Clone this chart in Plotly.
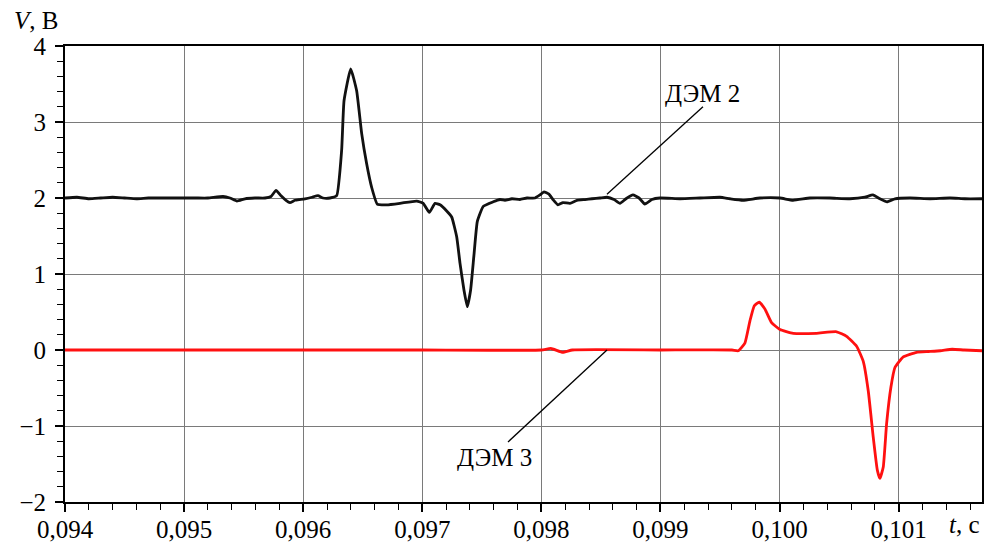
import plotly.graph_objects as go

# ДЭМ 2 signal (time in s, voltage in V)
dem2_t = [
    0.09400, 0.09410, 0.09420, 0.09430, 0.09440, 0.09450, 0.09460, 0.09470,
    0.09480, 0.09490, 0.09500, 0.09510, 0.09520, 0.095327, 0.095385, 0.095444,
    0.095511, 0.095595, 0.095679, 0.095730, 0.095772, 0.095814, 0.095856, 0.095889,
    0.095931, 0.095973, 0.096015, 0.096074, 0.096124, 0.096166, 0.096225, 0.096281,
    0.096323, 0.096343, 0.096399, 0.096449, 0.096491, 0.096533, 0.096575, 0.096622,
    0.096701, 0.096813, 0.096953, 0.097008, 0.097059, 0.097107, 0.097149, 0.097205,
    0.097247, 0.097289, 0.097317, 0.097350, 0.097378, 0.097406, 0.097434, 0.097462,
    0.097512, 0.097596, 0.097652, 0.097694, 0.097753, 0.097820, 0.097879, 0.097946,
    0.097988, 0.098022, 0.098064, 0.098097, 0.098139, 0.098181, 0.098240, 0.098299,
    0.098366, 0.098425, 0.098492, 0.098551, 0.098610, 0.098660, 0.098710, 0.098769,
    0.098820, 0.098869, 0.098928, 0.098996, 0.099164, 0.099332, 0.099500, 0.099584,
    0.099693, 0.099836, 0.100003, 0.100113, 0.100255, 0.100423, 0.100591, 0.100717,
    0.100784, 0.100843, 0.100902, 0.100969, 0.101095, 0.101263, 0.101431, 0.101557,
    0.101700,
]
dem2_v = [
    2.00, 2.01, 1.99, 2.00, 2.01, 2.00, 1.99, 2.00,
    2.00, 2.00, 2.00, 2.00, 2.00, 2.02, 2.00, 1.96,
    1.99, 2.00, 2.00, 2.02, 2.10, 2.03, 1.97, 1.94,
    1.97, 1.98, 1.99, 2.01, 2.03, 2.00, 2.00, 2.03,
    2.63, 3.28, 3.70, 3.41, 2.85, 2.45, 2.14, 1.92,
    1.91, 1.93, 1.96, 1.93, 1.81, 1.93, 1.91, 1.83,
    1.75, 1.49, 1.14, 0.79, 0.57, 0.79, 1.25, 1.69,
    1.89, 1.95, 1.98, 1.97, 1.99, 1.98, 2.00, 2.00,
    2.04, 2.08, 2.05, 1.98, 1.91, 1.94, 1.93, 1.97,
    1.98, 1.99, 2.00, 2.01, 1.98, 1.93, 1.99, 2.04,
    2.00, 1.92, 1.98, 2.00, 1.99, 2.00, 2.01, 1.99,
    1.97, 2.00, 2.00, 1.97, 2.00, 2.00, 1.99, 2.01,
    2.04, 1.99, 1.95, 1.99, 2.00, 1.99, 2.00, 1.99,
    1.99,
]

# ДЭМ 3 signal
dem3_t = [
    0.09400, 0.09500, 0.09600, 0.09700, 0.09800, 0.09808, 0.09818, 0.09826,
    0.09900, 0.09960, 0.099653, 0.099709, 0.099751, 0.099787, 0.099829, 0.099877,
    0.099933, 0.100003, 0.100115, 0.100311, 0.100479, 0.100563, 0.100647, 0.100703,
    0.100745, 0.100787, 0.100821, 0.100843, 0.100871, 0.100899, 0.100935, 0.100969,
    0.101039, 0.101151, 0.101250, 0.101350, 0.101450, 0.101550, 0.101700,
]
dem3_v = [
    0.00, 0.00, 0.00, 0.00, 0.00, 0.02, -0.03, 0.00,
    0.00, 0.00, -0.01, 0.09, 0.38, 0.58, 0.63, 0.54,
    0.36, 0.27, 0.22, 0.22, 0.24, 0.18, 0.05, -0.15,
    -0.54, -1.15, -1.58, -1.69, -1.54, -0.97, -0.49, -0.23,
    -0.09, -0.03, -0.02, -0.01, 0.01, 0.00, -0.01,
]

x_ticks = [0.094, 0.095, 0.096, 0.097, 0.098, 0.099, 0.100, 0.101]
x_labels = ["0,094", "0,095", "0,096", "0,097", "0,098", "0,099", "0,100", "0,101"]
y_ticks = [-2, -1, 0, 1, 2, 3, 4]
y_labels = ["\u22122", "\u22121", "0", "1", "2", "3", "4"]

FONT = "Liberation Serif"

fig = go.Figure()
fig.add_trace(go.Scatter(
    x=dem2_t, y=dem2_v, mode="lines",
    line=dict(color="#111111", width=2.8, shape="spline", smoothing=0.4),
    showlegend=False, hoverinfo="skip",
))
fig.add_trace(go.Scatter(
    x=dem3_t, y=dem3_v, mode="lines",
    line=dict(color="#ff1010", width=2.8, shape="spline", smoothing=0.4),
    showlegend=False, hoverinfo="skip",
))

axis_common = dict(
    showline=True, linecolor="black", linewidth=2, mirror=True,
    showgrid=True, gridcolor="#7a7a7a", gridwidth=1.2,
    ticks="outside", ticklen=8, tickwidth=1.6, tickcolor="black",
    tickfont=dict(family=FONT, size=25, color="black"),
    zeroline=False, automargin=False,
)

fig.update_xaxes(
    range=[0.094, 0.1017], tickvals=x_ticks, ticktext=x_labels,
    minor=dict(ticks="outside", ticklen=6, tickwidth=1.4, tickcolor="black",
               dtick=0.0002, tick0=0.094, showgrid=False),
    ticklabelstandoff=-4,
    **axis_common,
)
fig.update_yaxes(
    range=[-2, 4], tickvals=y_ticks, ticktext=y_labels,
    minor=dict(ticks="outside", ticklen=6, tickwidth=1.4, tickcolor="black",
               dtick=0.2, tick0=0, showgrid=False),
    ticklabelstandoff=4,
    **axis_common,
)

# Curve labels with leader lines
fig.add_annotation(x=0.099357, y=3.38, text="ДЭМ 2", showarrow=False,
                   font=dict(family=FONT, size=25, color="black"))
fig.add_shape(type="line", x0=0.099357, y0=3.20, x1=0.098551, y1=2.05,
              line=dict(color="black", width=1.3))
fig.add_annotation(x=0.097610, y=-1.42, text="ДЭМ 3", showarrow=False,
                   font=dict(family=FONT, size=25, color="black"))
fig.add_shape(type="line", x0=0.098551, y0=0.0, x1=0.097720, y1=-1.21,
              line=dict(color="black", width=1.3))

# Axis captions
fig.add_annotation(xref="paper", yref="paper", x=-0.058, y=1.057,
                   xanchor="left", yanchor="middle", text="<i>V</i>, В",
                   showarrow=False, font=dict(family=FONT, size=25, color="black"))
fig.add_annotation(xref="paper", yref="paper", x=1.0, y=-0.05,
                   xanchor="right", yanchor="middle", text="<i>t</i>, с",
                   showarrow=False, font=dict(family=FONT, size=25, color="black"))

fig.update_layout(
    width=988, height=542,
    margin=dict(l=65, r=6, t=46, b=40),
    paper_bgcolor="white", plot_bgcolor="white",
)

fig.write_html("out.html")
